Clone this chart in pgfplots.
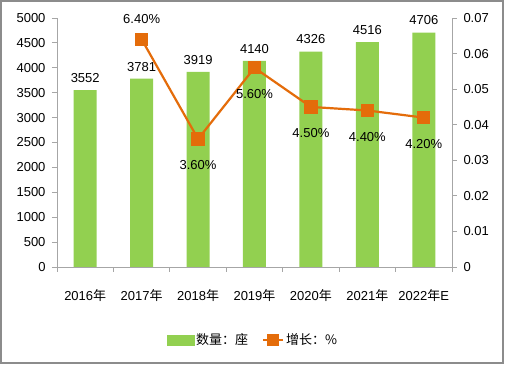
\documentclass[border=0pt]{standalone}
\usepackage{fontspec}
\setmainfont{Liberation Sans}
\newfontfamily\cjk{Noto Sans CJK SC}
\usepackage{pgfplots}
\pgfplotsset{compat=1.18}
\definecolor{barg}{HTML}{92D050}
\definecolor{lineo}{HTML}{E46C0A}
\definecolor{axg}{HTML}{A6A6A6}
\definecolor{frameg}{HTML}{8C8C8C}
\pgfplotsset{/pgf/number format/1000 sep={}, /pgf/number format/assume math mode=true}
\begin{document}
\begin{tikzpicture}[font=\fontsize{13bp}{15bp}\selectfont]
\useasboundingbox (0,0) rectangle (506bp,366bp);
\fill[white] (0,0) rectangle (506bp,366bp);
\draw[frameg, line width=1.5bp] (1bp,3bp) rectangle (503bp,365bp);
\begin{axis}[
  at={(57bp,99bp)}, anchor=south west, scale only axis,
  width=395bp, height=249bp,
  xmin=-0.5, xmax=6.5, ymin=0, ymax=5000,
  axis x line*=bottom, axis y line*=left,
  axis line style={axg, line width=0.8bp},
  tick style={axg, line width=0.8bp},
  tick align=outside, major tick length=5bp,
  ytick={0,500,1000,1500,2000,2500,3000,3500,4000,4500,5000},
  xtick={-0.5,0.5,1.5,2.5,3.5,4.5,5.5,6.5},
  x tick label as interval,
  xticklabels={2016{\cjk 年},2017{\cjk 年},2018{\cjk 年},2019{\cjk 年},2020{\cjk 年},2021{\cjk 年},2022{\cjk 年}E},
  xticklabel style={yshift=-14bp, text=black},
  yticklabel style={text=black, xshift=-3bp},
  clip=false,
]
\addplot[ybar, bar width=23bp, fill=barg, draw=none,
  nodes near coords, nodes near coords style={text=black, yshift=4bp}]
  coordinates {(0,3552) (1,3781) (2,3919) (3,4140) (4,4326) (5,4516) (6,4706)};
\end{axis}
\begin{axis}[
  at={(57bp,99bp)}, anchor=south west, scale only axis,
  width=395bp, height=249bp,
  xmin=-0.5, xmax=6.5, ymin=0, ymax=0.07,
  axis x line=none, axis y line*=right,
  axis line style={axg, line width=0.8bp},
  tick style={axg, line width=0.8bp},
  tick align=outside, major tick length=5bp,
  scaled y ticks=false,
  ytick={0,0.01,0.02,0.03,0.04,0.05,0.06,0.07},
  yticklabels={0,0.01,0.02,0.03,0.04,0.05,0.06,0.07},
  yticklabel style={text=black, xshift=3bp},
  clip=false,
  legend style={at={(0.496,-0.293)}, anchor=center, draw=none, fill=none,
    legend columns=2, /tikz/every even column/.append style={column sep=12bp},
    font=\fontsize{13bp}{15bp}\selectfont},
]
\addlegendimage{legend image code/.code={\fill[barg] (0bp,-5bp) rectangle (27bp,5bp);}}
\addlegendentry{{\cjk 数量：座}}
\addplot[lineo, line width=2.2bp, mark=square*, mark size=5.5bp, mark options={solid, fill=lineo},
  legend image code/.code={\draw[lineo, line width=2.2bp] (0bp,0bp) -- (20bp,0bp); \fill[lineo] (5bp,-5bp) rectangle (15bp,5bp);}]
  coordinates {(1,0.064) (2,0.036) (3,0.056) (4,0.045) (5,0.044) (6,0.042)};
\addlegendentry{{\cjk 增长：\%}}
\addplot[forget plot, draw=none, mark=none, nodes near coords, point meta=explicit symbolic,
  nodes near coords style={anchor=south, yshift=12bp, text=black}]
  coordinates {(1,0.064) [6.40\%]};
\addplot[forget plot, draw=none, mark=none, nodes near coords, point meta=explicit symbolic,
  nodes near coords style={anchor=north, yshift=-18bp, text=black}]
  coordinates {(2,0.036) [3.60\%] (3,0.056) [5.60\%] (4,0.045) [4.50\%] (5,0.044) [4.40\%] (6,0.042) [4.20\%]};
\end{axis}
\end{tikzpicture}
\end{document}
